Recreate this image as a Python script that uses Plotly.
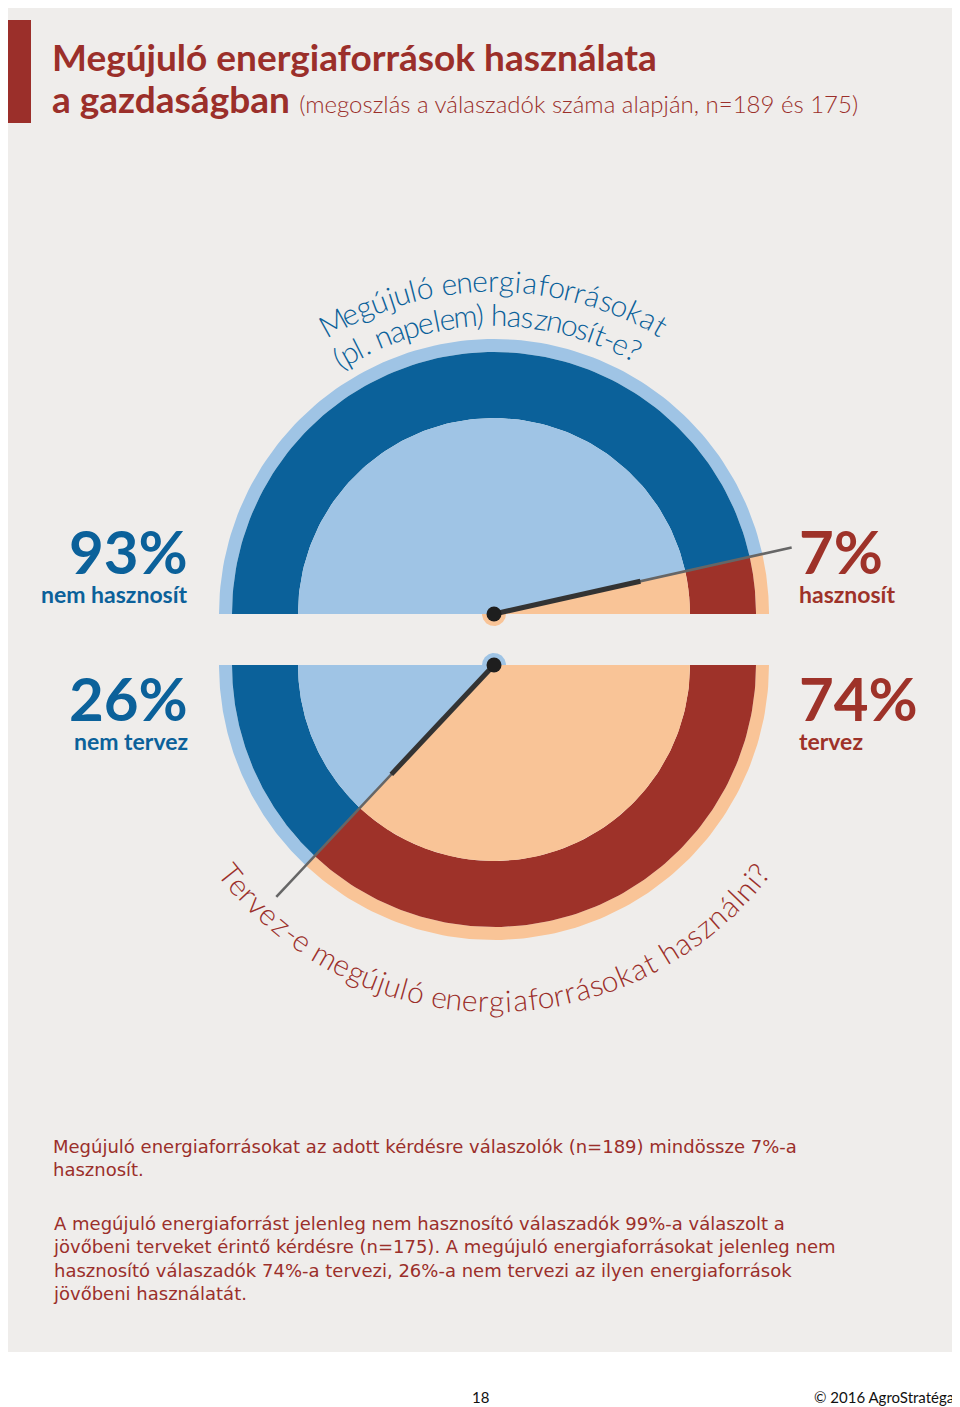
import numpy as np
import plotly.graph_objects as go

# ---- data ----
q1_labels = ["nem hasznosít", "hasznosít"]
q1_values = [93, 7]
q2_labels = ["nem tervez", "tervez"]
q2_values = [26, 74]
q1_question = ["Megújuló energiaforrásokat", "(pl. napelem) hasznosít-e?"]
q2_question = "Tervez-e megújuló energiaforrásokat használni?"

DBLUE = "#0b619a"; LBLUE = "#9fc4e5"; RED = "#9e3229"; PEACH = "#f9c497"
BG = "#efedeb"; TXT_RED = "#9b2f2a"

fig = go.Figure()

def wedge(cx, cy, r0, r1, a0, a1, color):
    a = np.radians(np.linspace(a0, a1, 120))
    xs = np.concatenate([cx + r1*np.cos(a), cx + r0*np.cos(a[::-1])])
    ys = np.concatenate([cy + r1*np.sin(a), cy + r0*np.sin(a[::-1])])
    fig.add_trace(go.Scatter(x=xs, y=ys, fill="toself", fillcolor=color, mode="lines",
                             line=dict(width=0, color=color), hoverinfo="skip", showlegend=False))

cx, cy1, cy2 = 494, 614, 665
R_IN, R_RING, R_RIM = 196, 262, 275
b = -180 + q1_values[0] / 100 * 180
for (a0, a1), (dark, light) in zip([(-180, b), (b, 0)], [(DBLUE, LBLUE), (RED, PEACH)]):
    wedge(cx, cy1, R_RING, R_RIM, a0, a1, light)
    wedge(cx, cy1, R_IN, R_RING, a0, a1, dark)
    wedge(cx, cy1, 0, R_IN, a0, a1, light)
b2 = q2_values[1] / 100 * 180
for (a0, a1), (dark, light) in zip([(0, b2), (b2, 180)], [(RED, PEACH), (DBLUE, LBLUE)]):
    wedge(cx, cy2, R_RING, R_RIM, a0, a1, light)
    wedge(cx, cy2, R_IN, R_RING, a0, a1, dark)
    wedge(cx, cy2, 0, R_IN, a0, a1, light)

wedge(cx, cy1, 0, 12, 0, 180, PEACH)
wedge(cx, cy2, 0, 12, -180, 0, LBLUE)
for cyy, ang, ln in [(cy1, b, 305), (cy2, b2, 318)]:
    t = np.radians(ang)
    fig.add_trace(go.Scatter(x=[cx, cx + ln*np.cos(t)], y=[cyy, cyy + ln*np.sin(t)], mode="lines",
                             line=dict(color="#666666", width=2.5), hoverinfo="skip", showlegend=False))
    fig.add_trace(go.Scatter(x=[cx, cx + 150*np.cos(t)], y=[cyy, cyy + 150*np.sin(t)], mode="lines",
                             line=dict(color="#333333", width=5), hoverinfo="skip", showlegend=False))
    fig.add_trace(go.Scatter(x=[cx], y=[cyy], mode="markers", marker=dict(size=15, color="#1e1e1e"),
                             hoverinfo="skip", showlegend=False))

def cw(c):
    if c in "iljíI.,()|": return 0.3
    if c in "tf-r": return 0.4
    if c in "s?": return 0.48
    if c in "mwM": return 0.85
    if c == " ": return 0.32
    return 0.58

def arc_text(text, cxx, cyy, r, a_start, a_end, color, size, top):
    w = np.array([cw(c) for c in text]); cum = np.cumsum(w) - w/2
    fr = cum / w.sum()
    for c, f in zip(text, fr):
        a = a_start + (a_end - a_start) * f
        t = np.radians(a)
        rot = a + 90 if top else a - 90
        fig.add_annotation(x=cxx + r*np.cos(t), y=cyy + r*np.sin(t), text=c, showarrow=False,
                           textangle=rot, font=dict(family="Lato", size=size, color=color, weight=300),
                           xanchor="center", yanchor="middle")

arc_text(q1_question[0], cx, cy1, 334, -121, -59, DBLUE, 30, True)
arc_text(q1_question[1], cx, cy1, 300, -122, -61, DBLUE, 30, True)
arc_text(q2_question, cx, cy2, 335, 143, 37, TXT_RED, 30, False)

def ann(x, y, text, size, color, anchor="center", bold=True, family="Lato", italic=False):
    fig.add_annotation(x=x, y=y, text=text, showarrow=False, xanchor=anchor, yanchor="middle",
                       font=dict(family=family, size=size, color=color,
                                 weight="bold" if bold else "normal", style="italic" if italic else "normal"))

ann(190, 551, f"{q1_values[0]}%", 60, DBLUE, "right")
ann(190, 594, q1_labels[0], 23, DBLUE, "right")
ann(797, 551, f"{q1_values[1]}%", 60, RED, "left")
ann(797, 594, q1_labels[1], 23, RED, "left")
ann(190, 698, f"{q2_values[0]}%", 60, DBLUE, "right")
ann(190, 741, q2_labels[0], 23, DBLUE, "right")
ann(797, 698, f"{q2_values[1]}%", 60, RED, "left")
ann(797, 741, q2_labels[1], 23, RED, "left")

ann(50, 56, "Megújuló energiaforrások használata", 37, TXT_RED, "left")
fig.add_annotation(x=50, y=98, xanchor="left", yanchor="middle", showarrow=False,
                   text="<b>a gazdaságban</b> <span style='font-size:24px;font-weight:300'>(megoszlás a válaszadók száma alapján, n=189 és 175)</span>",
                   font=dict(family="Lato", size=37, color=TXT_RED))

body1 = "Megújuló energiaforrásokat az adott kérdésre válaszolók (n=189) mindössze 7%-a<br>hasznosít."
body2 = ("A megújuló energiaforrást jelenleg nem hasznosító válaszadók 99%-a válaszolt a<br>"
         "jövőbeni terveket érintő kérdésre (n=175). A megújuló energiaforrásokat jelenleg nem<br>"
         "hasznosító válaszadók 74%-a tervezi, 26%-a nem tervezi az ilyen energiaforrások<br>"
         "jövőbeni használatát.")
for y, t in [(1134, body1), (1211, body2)]:
    fig.add_annotation(x=51, y=y, text=t, showarrow=False, xanchor="left", yanchor="top", align="left",
                       font=dict(family="DejaVu Sans", size=18, color=TXT_RED))

ann(4, 1397, "Fiatal gazdák a kertészeti termelésben", 15, "#111111", "left", False, italic=True)
ann(480, 1397, "18", 15, "#111111", "center", False)
ann(956, 1397, "© 2016 AgroStratéga", 15, "#111111", "right", False)

# page body has an 8px offset; shift axis ranges so data coords equal page pixels
OFF = 8
fig.update_layout(
    width=960, height=1407, margin=dict(l=0, r=0, t=0, b=0),
    paper_bgcolor="white", plot_bgcolor="white",
    xaxis=dict(range=[OFF, 960 + OFF], visible=False, fixedrange=True),
    yaxis=dict(range=[1407 + OFF, OFF], visible=False, fixedrange=True),
    shapes=[dict(type="rect", xref="x", yref="y", x0=3, x1=957, y0=0, y1=1352, fillcolor=BG,
                 line=dict(width=0), layer="below"),
            dict(type="rect", xref="x", yref="y", x0=5, x1=31, y0=20, y1=123, fillcolor=TXT_RED,
                 line=dict(width=0), layer="below")],
)
fig.write_html("out.html")
